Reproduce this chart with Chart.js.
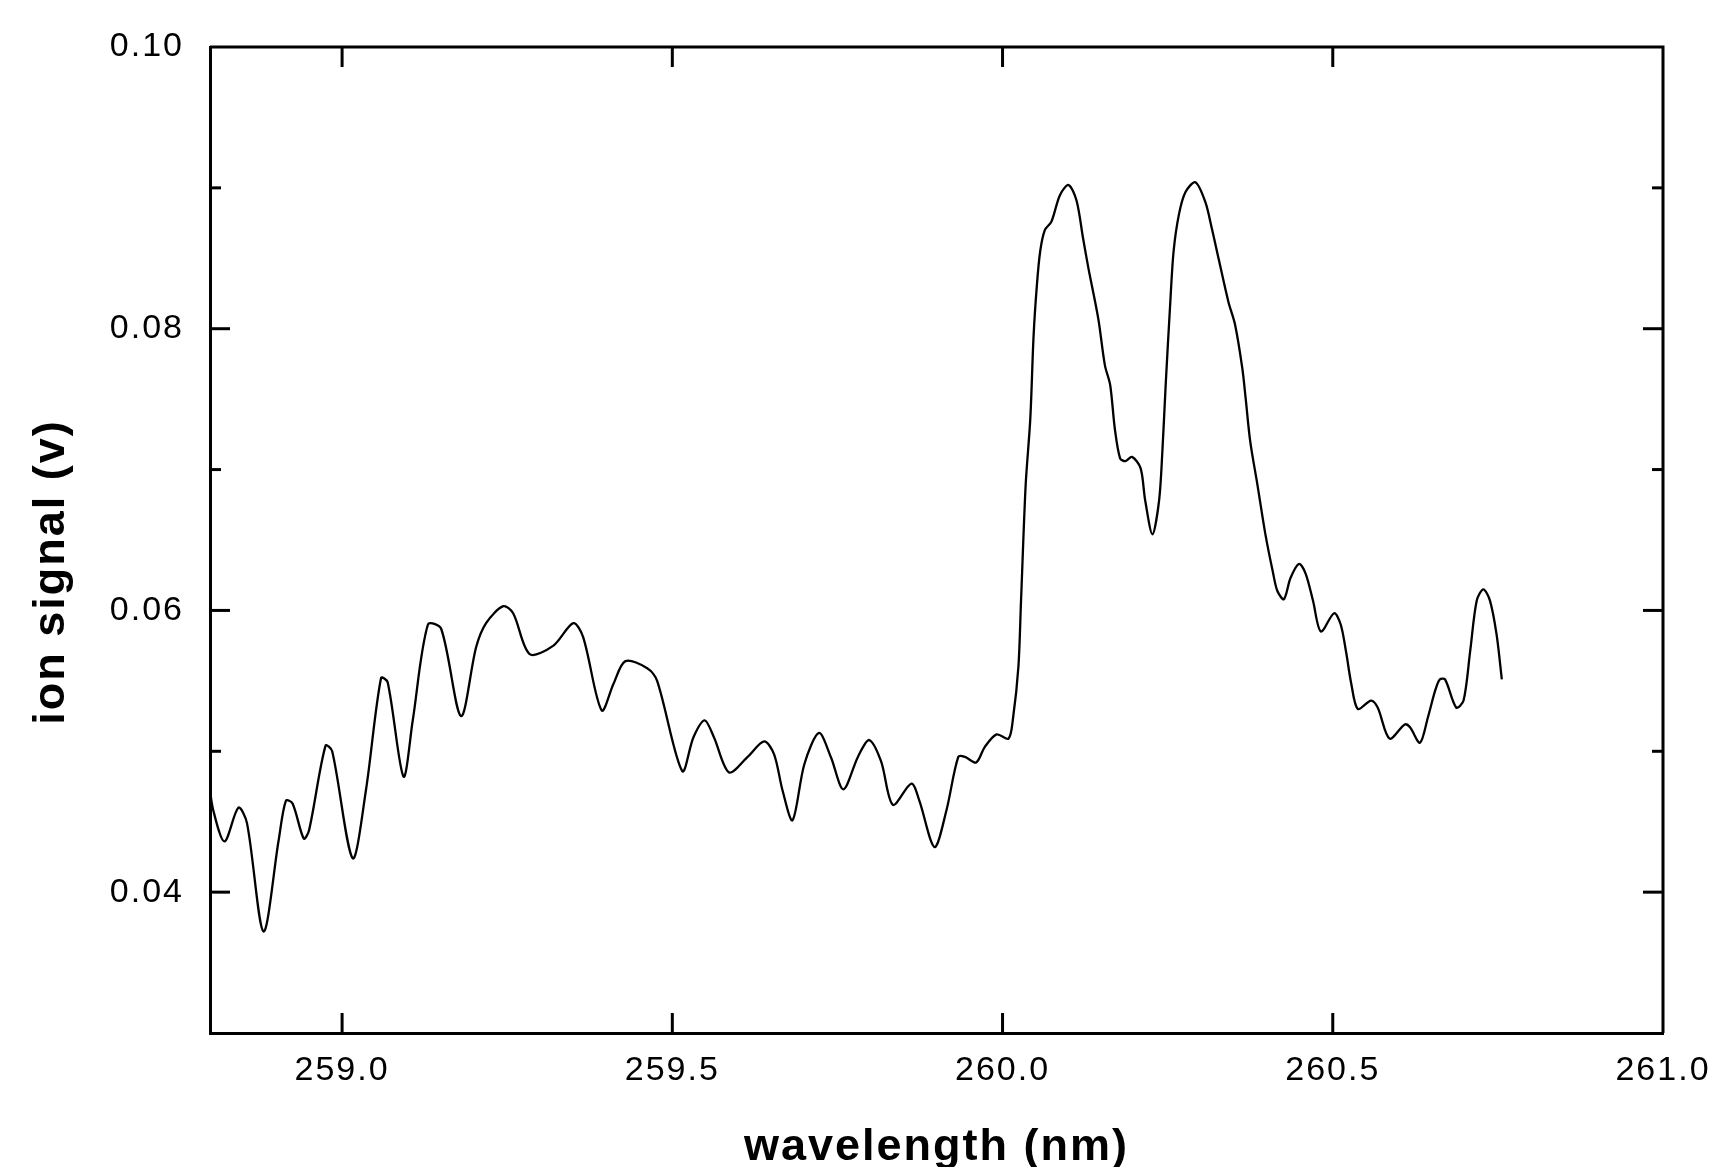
<!DOCTYPE html>
<html>
<head>
<meta charset="utf-8">
<script src="https://cdn.jsdelivr.net/npm/chart.js@4.4.1/dist/chart.umd.min.js"></script>
<style>
html,body{margin:0;padding:0;background:#fff;}
#wrap{width:1718px;height:1167px;}
</style>
</head>
<body>
<div id="wrap"><canvas id="c" width="1718" height="1167"></canvas></div>
<script>
const wavelength = [
258.798,258.805,258.822,258.843,258.856,258.881,258.904,258.915,258.925,258.942,
258.950,258.975,258.985,259.016,259.036,259.059,259.069,259.093,259.107,259.130,
259.150,259.180,259.203,259.218,259.244,259.259,259.284,259.320,259.350,259.365,
259.393,259.411,259.429,259.462,259.477,259.515,259.532,259.549,259.563,259.586,
259.614,259.639,259.654,259.667,259.682,259.700,259.722,259.740,259.759,259.781,
259.798,259.816,259.834,259.862,259.874,259.897,259.915,259.933,259.943,259.960,
259.973,259.991,260.009,260.016,260.024,260.028,260.035,260.042,260.047,260.052,
260.057,260.064,260.074,260.087,260.100,260.112,260.122,260.130,260.145,260.155,
260.163,260.170,260.178,260.186,260.196,260.209,260.216,260.227,260.237,260.242,
260.247,260.254,260.259,260.267,260.277,260.292,260.307,260.317,260.327,260.342,
260.352,260.363,260.368,260.375,260.386,260.398,260.409,260.416,260.426,260.436,
260.449,260.459,260.470,260.482,260.502,260.512,260.520,260.528,260.538,260.558,
260.568,260.586,260.609,260.617,260.632,260.644,260.655,260.662,260.670,260.687,
260.698,260.708,260.718,260.728,260.738,260.748,260.756
];
const ionSignal = [
0.0479,0.0458,0.0436,0.0460,0.0449,0.0372,0.0437,0.0465,0.0463,0.0438,
0.0444,0.0504,0.0500,0.0424,0.0472,0.0552,0.0549,0.0482,0.0522,0.0590,
0.0587,0.0525,0.0574,0.0591,0.0603,0.0598,0.0569,0.0575,0.0591,0.0581,
0.0529,0.0548,0.0564,0.0559,0.0550,0.0486,0.0510,0.0522,0.0510,0.0485,
0.0496,0.0507,0.0498,0.0472,0.0451,0.0491,0.0513,0.0496,0.0473,0.0496,
0.0508,0.0493,0.0462,0.0477,0.0465,0.0432,0.0458,0.0496,0.0496,0.0492,
0.0503,0.0512,0.0509,0.0524,0.0560,0.0607,0.0689,0.0736,0.0795,0.0831,
0.0855,0.0870,0.0876,0.0895,0.0902,0.0891,0.0864,0.0843,0.0807,0.0774,
0.0760,0.0729,0.0708,0.0706,0.0709,0.0701,0.0678,0.0654,0.0678,0.0713,
0.0760,0.0819,0.0855,0.0881,0.0897,0.0904,0.0890,0.0871,0.0850,0.0819,
0.0803,0.0772,0.0751,0.0720,0.0689,0.0654,0.0628,0.0614,0.0608,0.0623,
0.0633,0.0626,0.0607,0.0585,0.0598,0.0590,0.0571,0.0548,0.0530,0.0536,
0.0531,0.0509,0.0519,0.0517,0.0506,0.0524,0.0543,0.0551,0.0551,0.0531,
0.0536,0.0571,0.0607,0.0615,0.0607,0.0583,0.0551
];
const xTickValues = [259.0, 259.5, 260.0, 260.5, 261.0];
const yTickValues = [0.04, 0.06, 0.08, 0.10];
const yMinorTickValues = [0.05, 0.07, 0.09];
const xRange = [258.8, 261.0];
const yRange = [0.03, 0.10];
const xTitle = 'wavelength (nm)';
const yTitle = 'ion signal (v)';

const FONT = '"Liberation Sans", Arial, Helvetica, sans-serif';
const SPACING = '2px';

const spacingPlugin = {
  id: 'spacing',
  beforeLayout(chart) { chart.ctx.letterSpacing = SPACING; },
  beforeDraw(chart) { chart.ctx.letterSpacing = SPACING; }
};

const framePlugin = {
  id: 'frame',
  afterDraw(chart) {
    const ctx = chart.ctx, a = chart.chartArea, x = chart.scales.x, y = chart.scales.y;
    ctx.save();
    ctx.strokeStyle = '#000';
    ctx.lineWidth = 3;
    ctx.beginPath();
    ctx.moveTo(a.left, a.top); ctx.lineTo(a.right, a.top); ctx.lineTo(a.right, a.bottom);
    ctx.stroke();
    const seg = (x1, y1, x2, y2) => { ctx.beginPath(); ctx.moveTo(x1, y1); ctx.lineTo(x2, y2); ctx.stroke(); };
    xTickValues.forEach(v => {
      const px = x.getPixelForValue(v);
      if (px > a.right - 3) return;
      seg(px, a.bottom, px, a.bottom - 20);
      seg(px, a.top, px, a.top + 20);
    });
    yTickValues.forEach(v => {
      const py = y.getPixelForValue(v);
      if (py < a.top + 3) return;
      seg(a.left, py, a.left + 20, py);
      seg(a.right, py, a.right - 20, py);
    });
    yMinorTickValues.forEach(v => {
      const py = y.getPixelForValue(v);
      seg(a.left, py, a.left + 11, py);
      seg(a.right, py, a.right - 11, py);
    });
    // y-axis title
    ctx.letterSpacing = SPACING;
    ctx.fillStyle = '#000';
    ctx.font = 'bold 45px ' + FONT;
    ctx.textAlign = 'center';
    ctx.textBaseline = 'middle';
    ctx.translate(a.left - 158, (a.top + a.bottom) / 2 + 32);
    ctx.rotate(-Math.PI / 2);
    ctx.fillText(yTitle, 0, 0);
    ctx.restore();
  }
};

const points = wavelength.map((w, i) => ({ x: w, y: ionSignal[i] }));

new Chart(document.getElementById('c'), {
  type: 'scatter',
  data: {
    datasets: [{
      data: points,
      showLine: true,
      borderColor: '#000',
      borderWidth: 2.3,
      pointRadius: 0,
      tension: 0.3,
      fill: false
    }]
  },
  options: {
    responsive: false,
    devicePixelRatio: 1,
    animation: false,
    layout: { padding: { left: 0, right: 55, top: 47, bottom: 0 } },
    plugins: { legend: { display: false }, tooltip: { enabled: false } },
    scales: {
      x: {
        type: 'linear',
        position: 'bottom',
        min: xRange[0], max: xRange[1],
        grid: { display: false, drawTicks: false },
        border: { display: true, color: '#000', width: 3 },
        afterBuildTicks: s => { s.ticks = xTickValues.map(v => ({ value: v })); },
        afterFit: s => { s.height = 134; s.paddingRight = 0; s.paddingLeft = 0; },
        ticks: {
          color: '#000',
          font: { family: FONT, size: 34 },
          padding: 17,
          maxRotation: 0,
          autoSkip: false,
          callback: v => Number(v).toFixed(1)
        },
        title: {
          display: true, text: xTitle, color: '#000',
          font: { family: FONT, size: 45, weight: 'bold' },
          padding: { top: 0, bottom: -8 }
        }
      },
      y: {
        type: 'linear',
        position: 'left',
        min: yRange[0], max: yRange[1],
        grid: { display: false, drawTicks: false },
        border: { display: true, color: '#000', width: 3 },
        afterBuildTicks: s => { s.ticks = yTickValues.map(v => ({ value: v })); },
        afterFit: s => { s.width = 210; s.paddingTop = 0; s.paddingBottom = 0; },
        ticks: {
          color: '#000',
          font: { family: FONT, size: 34 },
          padding: 26,
          autoSkip: false,
          callback: v => Number(v).toFixed(2)
        }
      }
    }
  },
  plugins: [spacingPlugin, framePlugin]
});
</script>
</body>
</html>
